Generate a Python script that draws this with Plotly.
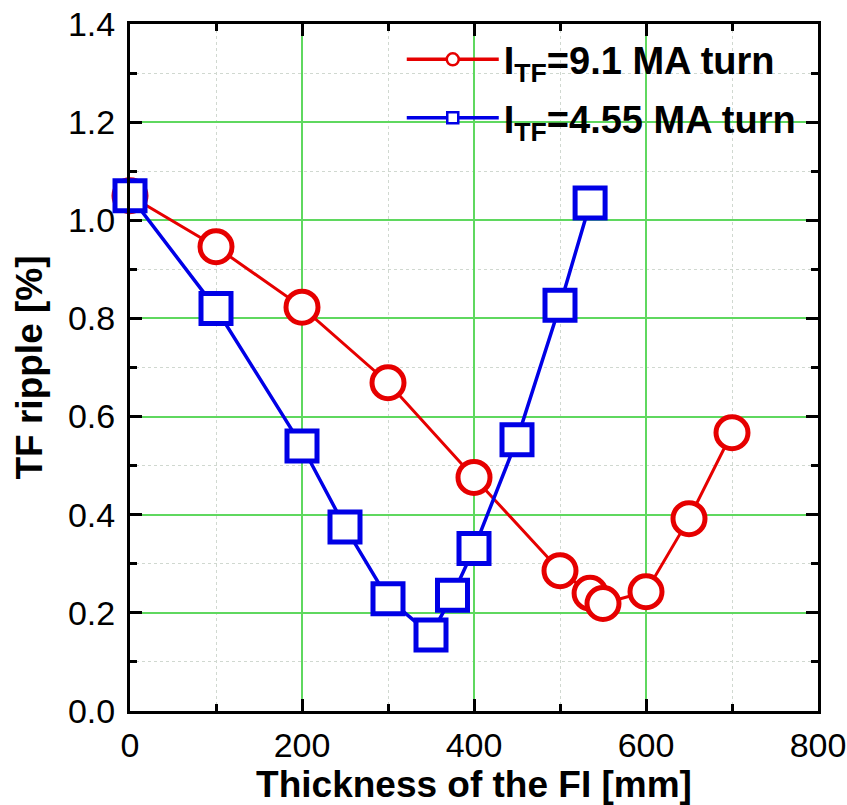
import plotly.graph_objects as go

# ---- data ----
red_x = [0, 100, 200, 300, 400, 500, 535, 550, 600, 650, 700]
red_y = [1.05, 0.946, 0.823, 0.669, 0.476, 0.286, 0.240, 0.219, 0.243, 0.392, 0.567]
blue_x = [0, 100, 200, 250, 300, 350, 375, 400, 450, 500, 535]
blue_y = [1.05, 0.820, 0.540, 0.375, 0.229, 0.155, 0.236, 0.331, 0.553, 0.827, 1.035]

red_name = "I<sub>TF</sub>=9.1 MA turn"
blue_name = "I<sub>TF</sub>=4.55 MA turn"

x_title = "Thickness of the FI [mm]"
y_title = "TF ripple [%]"

RED = "#e60000"
BLUE = "#0000e6"
FONT = "Liberation Sans, Arial, sans-serif"

fig = go.Figure()

fig.add_trace(go.Scatter(
    x=red_x, y=red_y, mode="lines+markers", showlegend=False, cliponaxis=False,
    line=dict(color=RED, width=3),
    marker=dict(symbol="circle", size=32, color="white", line=dict(color=RED, width=5)),
))
fig.add_trace(go.Scatter(
    x=blue_x, y=blue_y, mode="lines+markers", showlegend=False, cliponaxis=False,
    line=dict(color=BLUE, width=3.5),
    marker=dict(symbol="square", size=30, color="white", line=dict(color=BLUE, width=5)),
))
# legend entries (smaller symbols, as in the reference legend)
fig.add_trace(go.Scatter(
    x=[None], y=[None], mode="lines+markers", name=red_name, legendgroup="a",
    line=dict(color=RED, width=3.5),
    marker=dict(symbol="circle", size=12, color="white", line=dict(color=RED, width=2.5)),
))
fig.add_trace(go.Scatter(
    x=[None], y=[None], mode="lines+markers", name=blue_name, legendgroup="b",
    line=dict(color=BLUE, width=3.5),
    marker=dict(symbol="square", size=11, color="white", line=dict(color=BLUE, width=2.5)),
))

axis_common = dict(
    showline=True, linecolor="black", linewidth=3, mirror="allticks",
    ticks="inside", ticklen=12, tickwidth=3, tickcolor="black",
    showgrid=True, gridcolor="#5fd85f", gridwidth=1.5,
    zeroline=False,
    tickfont=dict(family=FONT, size=34, color="black"),
)

fig.update_xaxes(
    range=[0, 800], dtick=200, tick0=0, **axis_common,
    ticklabelstandoff=2,
    minor=dict(dtick=100, ticks="inside", ticklen=7, tickwidth=3, tickcolor="black",
               showgrid=True, gridcolor="#d0d8d0", griddash="dot", gridwidth=1),
    title=dict(text=f"<b>{x_title}</b>", font=dict(family=FONT, size=37, color="black"), standoff=10),
)
fig.update_yaxes(
    range=[0, 1.4], dtick=0.2, tick0=0, tickformat=".1f", **axis_common,
    ticklabelstandoff=5,
    minor=dict(dtick=0.1, ticks="inside", ticklen=7, tickwidth=3, tickcolor="black",
               showgrid=True, gridcolor="#d0d8d0", griddash="dot", gridwidth=1),
    title=dict(text=f"<b>{y_title}</b>", font=dict(family=FONT, size=37, color="black"), standoff=14),
)

fig.update_layout(
    width=847, height=805,
    margin=dict(l=130, r=29, t=24, b=94, autoexpand=False),
    paper_bgcolor="white", plot_bgcolor="white",
    showlegend=True,
    legend=dict(
        x=0.395, y=0.994, xanchor="left", yanchor="top",
        bgcolor="rgba(0,0,0,0)", borderwidth=0,
        font=dict(family=FONT, size=38, color="black", weight="bold"),
        itemwidth=92, tracegroupgap=6,
    ),
)

fig.write_html("out.html")
